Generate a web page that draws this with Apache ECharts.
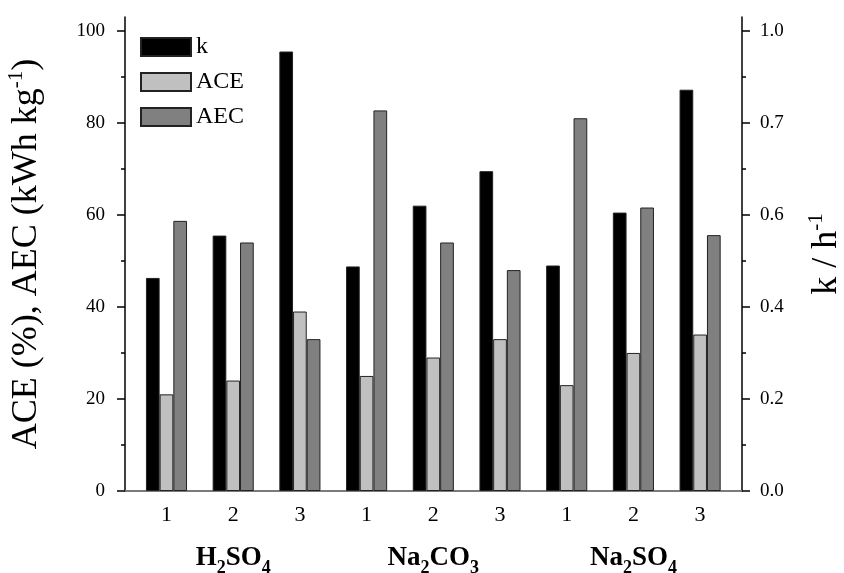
<!DOCTYPE html>
<html>
<head>
<meta charset="utf-8">
<script src="https://cdn.jsdelivr.net/npm/echarts@6/dist/echarts.min.js"></script>
<style>
html, body { margin: 0; padding: 0; background: #fff; }
#chart { width: 844px; height: 573px; }
</style>
</head>
<body>
<div id="chart"></div>
<script>
// runs per electrolyte, in plot order
const runs = ['1', '2', '3', '1', '2', '3', '1', '2', '3']
const electrolytes = ['H2SO4', 'Na2CO3', 'Na2SO4']
const kValues = [0.463, 0.555, 0.955, 0.488, 0.62, 0.695, 0.49, 0.605, 0.872]
const aceValues = [21, 24, 39, 25, 29, 33, 23, 30, 34]
const aecValues = [58.7, 54, 33, 82.7, 54, 48, 81, 61.6, 55.6]
const leftTicks = [0, 20, 40, 60, 80, 100]
const leftMinor = [10, 30, 50, 70, 90]
const rightTicks = ['0.0', '0.2', '0.4', '0.6', '0.7', '1.0']

const FONT = 'Liberation Serif'
const X_MIN = 0.378
const X_MAX = 9.628

// H2SO4 -> rich text with subscript digits
const formula = (name) => name.split(/(\d+)/).filter(Boolean)
    .map(p => (/\d/.test(p) ? `{s|${p}}` : `{b|${p}}`)).join('')

const pos = runs.map((r, i) => i + 1)
const toPairs = (vals) => vals.map((v, i) => [pos[i], v])

const barBase = {
    type: 'bar',
    xAxisIndex: 0,
    barWidth: 13.7,
    barGap: '0%',
    itemStyle: { borderColor: '#222', borderWidth: 1 },
}

const nameStyle = {
    fontFamily: FONT,
    fontSize: 36,
    color: '#000',
    rich: { sup: { fontFamily: FONT, fontSize: 21, color: '#000', padding: [0, 0, 20, 0] } },
}

const chart = echarts.init(document.getElementById('chart'))
chart.setOption({
    animation: false,
    backgroundColor: '#fff',
    textStyle: { fontFamily: FONT, color: '#000' },
    grid: { left: 125, right: 102, top: 17, bottom: 82, outerBoundsMode: 'none' },
    legend: {
        data: ['k', 'ACE', 'AEC'],
        orient: 'vertical',
        left: 135,
        top: 30,
        icon: 'rect',
        itemWidth: 50,
        itemHeight: 18,
        itemGap: 11,
        textStyle: { fontFamily: FONT, fontSize: 24, color: '#000' },
    },
    xAxis: [
        {
            type: 'value',
            min: X_MIN,
            max: X_MAX,
            position: 'bottom',
            axisLine: { show: true, lineStyle: { color: '#666', width: 1.5 } },
            axisTick: { show: false },
            splitLine: { show: false },
            axisLabel: {
                customValues: pos,
                formatter: (v) => runs[Math.round(v) - 1],
                fontFamily: FONT,
                fontSize: 22,
                color: '#000',
                margin: 13,
            },
        },
        {
            type: 'value',
            min: X_MIN,
            max: X_MAX,
            position: 'top',
            axisLine: { show: true, lineStyle: { color: '#777', width: 1.5 } },
            axisTick: { show: false },
            axisLabel: { show: false },
            splitLine: { show: false },
        },
        {
            type: 'value',
            min: X_MIN,
            max: X_MAX,
            position: 'bottom',
            axisLine: { show: false },
            axisTick: { show: false },
            splitLine: { show: false },
            axisLabel: {
                customValues: [2, 5, 8],
                formatter: (v) => formula(electrolytes[(Math.round(v) - 2) / 3]),
                margin: 48,
                rich: {
                    b: { fontFamily: FONT, fontSize: 27, fontWeight: 'bold', color: '#000' },
                    s: { fontFamily: FONT, fontSize: 18, fontWeight: 'bold', color: '#000', padding: [20, 0, 0, 0] },
                },
            },
        },
    ],
    yAxis: [
        {
            type: 'value',
            min: 0,
            max: 103,
            position: 'left',
            axisLine: { show: true, lineStyle: { color: '#000', width: 1.5 } },
            axisTick: { show: true, customValues: leftTicks, length: 8, lineStyle: { color: '#000', width: 1.5 } },
            axisLabel: { customValues: leftTicks, fontFamily: FONT, fontSize: 19, color: '#000', margin: 20 },
            splitLine: { show: false },
            name: 'ACE (%), AEC (kWh kg{sup|-1})',
            nameLocation: 'middle',
            nameRotate: 90,
            nameGap: 78,
            nameTextStyle: nameStyle,
        },
        {
            type: 'value',
            min: 0,
            max: 1.03,
            position: 'right',
            axisLine: { show: true, lineStyle: { color: '#000', width: 1.5 } },
            axisTick: { show: true, customValues: [0, 0.2, 0.4, 0.6, 0.8, 1.0], length: 8, lineStyle: { color: '#000', width: 1.5 } },
            axisLabel: {
                customValues: [0, 0.2, 0.4, 0.6, 0.8, 1.0],
                formatter: (v) => rightTicks[Math.round(v * 5)],
                fontFamily: FONT,
                fontSize: 19,
                color: '#000',
                margin: 18,
            },
            splitLine: { show: false },
            name: 'k / h{sup|-1}',
            nameLocation: 'middle',
            nameRotate: 90,
            nameGap: 64,
            nameTextStyle: nameStyle,
        },
        {
            type: 'value',
            min: 0,
            max: 103,
            position: 'left',
            axisLine: { show: false },
            axisTick: { show: true, customValues: leftMinor, length: 4, lineStyle: { color: '#000', width: 1.5 } },
            axisLabel: { show: false },
            splitLine: { show: false },
        },
        {
            type: 'value',
            min: 0,
            max: 1.03,
            position: 'right',
            axisLine: { show: false },
            axisTick: { show: true, customValues: [0.1, 0.3, 0.5, 0.7, 0.9], length: 4, lineStyle: { color: '#000', width: 1.5 } },
            axisLabel: { show: false },
            splitLine: { show: false },
        },
    ],
    series: [
        { ...barBase, name: 'k', yAxisIndex: 1, color: '#000', data: toPairs(kValues) },
        { ...barBase, name: 'ACE', yAxisIndex: 0, color: '#c0c0c0', data: toPairs(aceValues) },
        { ...barBase, name: 'AEC', yAxisIndex: 0, color: '#808080', data: toPairs(aecValues) },
    ],
})
</script>
</body>
</html>
